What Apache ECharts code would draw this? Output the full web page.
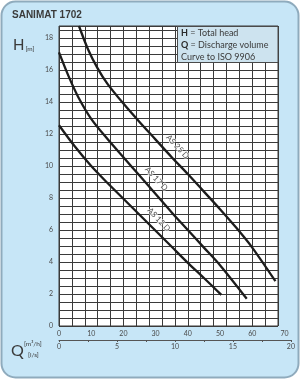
<!DOCTYPE html>
<html><head><meta charset="utf-8">
<script src="https://cdn.jsdelivr.net/npm/echarts@6/dist/echarts.min.js"></script>
<style>html,body{margin:0;padding:0;background:#fff}#c{width:300px;height:379px}</style>
</head><body><div id="c"></div>
<script>
const chartTitle = 'SANIMAT 1702';
const flowTicksM3h = [0, 10, 20, 30, 40, 50, 60, 70];
const flowTicksLs = [0, 5, 10, 15, 20];
const headTicks = [0, 2, 4, 6, 8, 10, 12, 14, 16, 18];
const curveNames = ['AS 25 D', 'AS 17 D', 'AS 12 D'];
const as25Q = [6.2, 9, 12, 15, 20, 25, 30, 35, 40, 45, 50, 55, 60, 67.2];
const as25H = [18.75, 17.3, 16.1, 15.15, 13.9, 12.75, 11.65, 10.55, 9.5, 8.4, 7.3, 6.15, 4.9, 2.8];
const as17Q = [0, 3, 6, 10, 15, 20, 25, 30, 35, 40, 45, 50, 58.3];
const as17H = [17.1, 15.6, 14.3, 12.95, 11.7, 10.55, 9.4, 8.25, 7.1, 6.0, 4.9, 3.8, 1.7];
const as12Q = [0, 5, 10, 15, 20, 25, 30, 35, 40, 45, 50.4];
const as12H = [12.55, 11.2, 10.0, 8.95, 7.95, 6.95, 5.95, 4.95, 3.95, 3.0, 1.95];
const labelQ = [36.8, 30.2, 31.0];
const labelH = [11.2, 9.2, 6.65];
const legendLines = [['H', ' = Total head'], ['Q', ' = Discharge volume'], ['', 'Curve to ISO 9906']];

const zip = (a, b) => a.map((v, i) => [v, b[i]]);
const gridCol = '#3a3a3a';
const txtCol = '#4a4a4a';
const FONT = 'Lato, "Open Sans", sans-serif';

const chart = echarts.init(document.getElementById('c'), null, {renderer: 'canvas'});
const plotLeft = 59, plotTop = 26, plotW = 219, plotH = 300;
const qMax = 68, hMax = 18.75;
const scaleW = plotW / qMax * 72;

chart.setOption({
  animation: false,
  textStyle: {fontFamily: FONT},
  grid: [
    {left: plotLeft, top: plotTop, width: plotW, height: plotH, show: true, backgroundColor: '#ffffff', borderColor: gridCol, borderWidth: 1},
    {left: plotLeft, top: 340, width: scaleW, height: 10},
    {left: plotLeft, top: 330, width: scaleW, height: 10}
  ],
  xAxis: [
    {gridIndex: 0, type: 'value', min: 0, max: qMax, interval: 4, axisLine: {show: false}, axisTick: {show: false}, axisLabel: {show: false},
     splitLine: {show: true, lineStyle: {color: gridCol, width: 1}}},
    {gridIndex: 1, type: 'value', position: 'top', min: 0, max: 72, interval: 10, axisLine: {show: false}, axisTick: {show: false},
     splitLine: {show: false},
     axisLabel: {show: true, margin: 3, fontSize: 7, color: txtCol, fontFamily: FONT, showMaxLabel: false,
       formatter: v => flowTicksM3h.includes(v) ? String(v) : ''}},
    {gridIndex: 2, type: 'value', position: 'bottom', min: 0, max: 20, interval: 2.5,
     axisLine: {show: true, lineStyle: {color: '#555', width: 1}},
     axisTick: {show: true, length: 2, lineStyle: {color: '#555'}},
     splitLine: {show: false},
     axisLabel: {show: true, margin: 3, fontSize: 7, color: txtCol, fontFamily: FONT,
       formatter: v => flowTicksLs.includes(v) ? String(v) : ''}}
  ],
  yAxis: [
    {gridIndex: 0, type: 'value', min: 0, max: hMax, interval: 0.5, axisLine: {show: false}, axisTick: {show: false},
     splitLine: {show: true, lineStyle: {color: gridCol, width: 1}},
     axisLabel: {show: true, margin: 6, fontSize: 7, color: txtCol, fontFamily: FONT, padding: [4, 0, 0, 0],
       formatter: v => headTicks.includes(v) ? String(v) : ''}},
    {gridIndex: 1, type: 'value', show: false},
    {gridIndex: 2, type: 'value', show: false}
  ],
  series: [
    {type: 'line', name: curveNames[0], xAxisIndex: 0, yAxisIndex: 0, data: zip(as25Q, as25H), smooth: 0.3, symbol: 'none', clip: true,
     lineStyle: {color: '#1c1c1c', width: 2.3}, z: 5},
    {type: 'line', name: curveNames[1], xAxisIndex: 0, yAxisIndex: 0, data: zip(as17Q, as17H), smooth: 0.3, symbol: 'none', clip: true,
     lineStyle: {color: '#1c1c1c', width: 2.3}, z: 5},
    {type: 'line', name: curveNames[2], xAxisIndex: 0, yAxisIndex: 0, data: zip(as12Q, as12H), smooth: 0.3, symbol: 'none', clip: true,
     lineStyle: {color: '#1c1c1c', width: 2.3}, z: 5},
    {type: 'scatter', xAxisIndex: 0, yAxisIndex: 0, symbolSize: 0, z: 4,
     data: curveNames.map((n, i) => ({name: n, value: [labelQ[i], labelH[i]]})),
     label: {show: true, position: 'inside', rotate: -47, formatter: '{b}', fontSize: 8, color: '#222', fontFamily: FONT,
       textBorderColor: '#ffffff', textBorderWidth: 1.5}}
  ],
  graphic: [
    {type: 'rect', z: -100, silent: true, shape: {x: 1.5, y: 1.5, width: 297, height: 376, r: 14},
     style: {fill: '#c7e6f7', stroke: '#8fabbd', lineWidth: 2}},
    {type: 'text', z: 100, left: 12, top: 10, style: {text: chartTitle, font: 'bold 10px "Liberation Sans Narrow", "Liberation Sans", sans-serif', fill: '#3a3a3a'}},
    {type: 'text', z: 100, left: 13, top: 38, style: {text: '{h|H}{s|[m]}', rich: {h: {fontSize: 15, fontFamily: FONT, fill: '#3a3a3a', verticalAlign: 'bottom'}, s: {fontSize: 6.5, fontFamily: FONT, fill: '#3a3a3a', verticalAlign: 'bottom', padding: [0, 0, 1, 1]}}}},
    {type: 'text', z: 100, left: 11, top: 343, style: {text: 'Q', font: '16px ' + FONT, fill: '#3a3a3a'}},
    {type: 'text', z: 100, left: 24, top: 340, style: {text: '[m³/h]', font: '6.5px ' + FONT, fill: '#3a3a3a'}},
    {type: 'text', z: 100, left: 28, top: 351, style: {text: '[l/s]', font: '6.5px ' + FONT, fill: '#3a3a3a'}},
    {type: 'rect', z: 100, silent: true, shape: {x: 177.5, y: 26.5, width: 100.5, height: 36},
     style: {fill: '#cde3ef', stroke: '#4a4a4a', lineWidth: 1}},
    ...legendLines.map((ln, i) => ({type: 'text', z: 101, left: 181, top: 29 + i * 12,
      style: {text: (ln[0] ? '{b|' + ln[0] + '}' : '') + '{n|' + ln[1] + '}',
        rich: {b: {fontSize: 9, fontWeight: 'bold', fontFamily: FONT, fill: '#2a2a2a'}, n: {fontSize: 9, fontFamily: FONT, fill: '#3a3a3a'}}}}))
  ]
});
</script></body></html>
